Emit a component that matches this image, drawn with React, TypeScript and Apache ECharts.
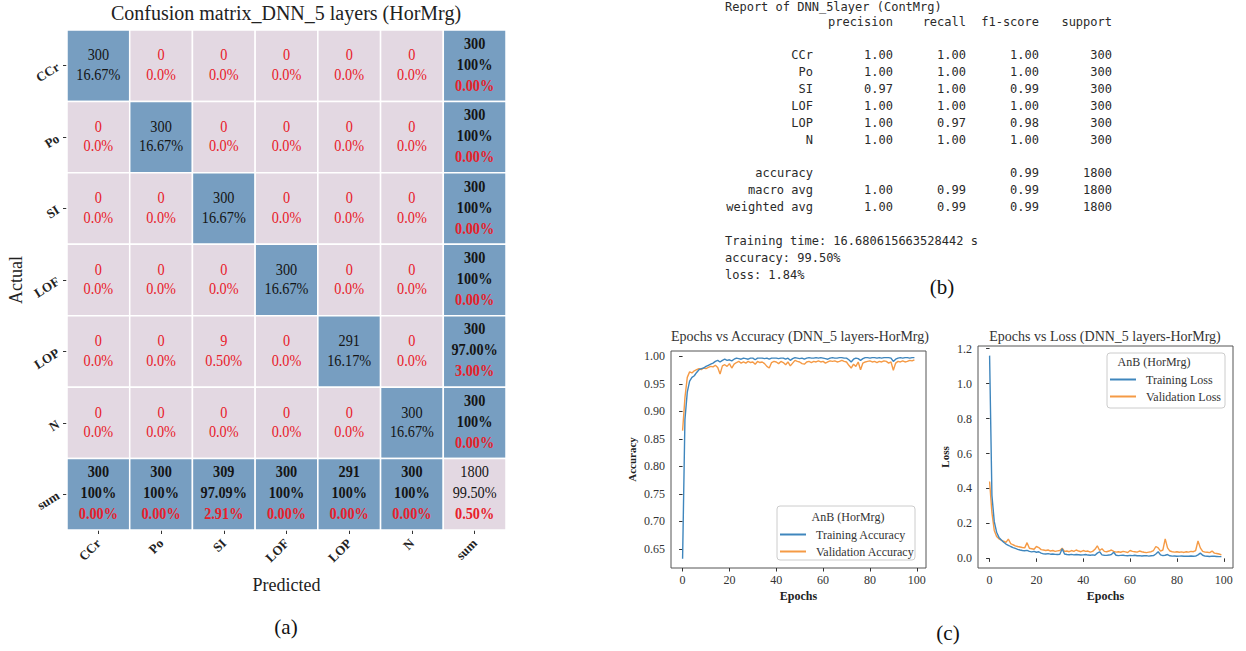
import React, { useEffect, useRef } from 'react';
import * as echarts from 'echarts';

const SERIF = '"Liberation Serif", "Times New Roman", serif';
const MONO = '"DejaVu Sans Mono", "Liberation Mono", monospace';

// ---------- (a) confusion matrix ----------
const classes = ['CCr', 'Po', 'SI', 'LOF', 'LOP', 'N'];
const axisCats = [...classes, 'sum'];
const confusion = [
  [300, 0, 0, 0, 0, 0],
  [0, 300, 0, 0, 0, 0],
  [0, 0, 300, 0, 0, 0],
  [0, 0, 0, 300, 0, 0],
  [0, 0, 9, 0, 291, 0],
  [0, 0, 0, 0, 0, 300],
];

// ---------- (b) classification report ----------
const reportTitle = 'Report of DNN_5layer (ContMrg)';
const reportHeaders = ['precision', 'recall', 'f1-score', 'support'];
const reportPrecision = [1.0, 1.0, 0.97, 1.0, 1.0, 1.0];
const reportRecall = [1.0, 1.0, 1.0, 1.0, 0.97, 1.0];
const reportF1 = [1.0, 1.0, 0.99, 1.0, 0.98, 1.0];
const reportSupport = [300, 300, 300, 300, 300, 300];
const avgLabels = ['accuracy', 'macro avg', 'weighted avg'];
const avgPrecision = [null, 1.0, 1.0];
const avgRecall = [null, 0.99, 0.99];
const avgF1 = [0.99, 0.99, 0.99];
const avgSupport = [1800, 1800, 1800];
const footerLines = ['Training time: 16.680615663528442 s', 'accuracy: 99.50%', 'loss: 1.84%'];

// ---------- (c) training curves ----------
const trainAcc = [
  0.632, 0.885, 0.935, 0.955, 0.962, 0.965, 0.971, 0.976, 0.978, 0.979,
  0.982, 0.984, 0.986, 0.988, 0.991, 0.993, 0.99, 0.993, 0.995, 0.993,
  0.994, 0.992, 0.995, 0.997, 0.996, 0.995, 0.997, 0.996, 0.995, 0.997,
  0.997, 0.994, 0.997, 0.997, 0.997, 0.996, 0.997, 0.995, 0.997, 0.997,
  0.997, 0.996, 0.997, 0.997, 0.995, 0.997, 0.993, 0.996, 0.998, 0.997,
  0.996, 0.997, 0.995, 0.997, 0.998, 0.997, 0.997, 0.998, 0.997, 0.998,
  0.997, 0.996, 0.995, 0.997, 0.998, 0.997, 0.997, 0.998, 0.998, 0.997,
  0.997, 0.994, 0.99, 0.995, 0.997, 0.996, 0.993, 0.996, 0.998, 0.998,
  0.997, 0.998, 0.998, 0.997, 0.998, 0.997, 0.998, 0.998, 0.998, 0.997,
  0.991, 0.995, 0.997, 0.998, 0.997, 0.998, 0.998, 0.997, 0.998, 0.998,
];
const valAcc = [
  0.865, 0.925, 0.962, 0.972, 0.97, 0.974, 0.976, 0.978, 0.976, 0.979,
  0.978, 0.98, 0.982, 0.981, 0.984, 0.98, 0.968, 0.983, 0.985, 0.982,
  0.987, 0.979, 0.986, 0.989, 0.991, 0.988, 0.99, 0.988, 0.991, 0.989,
  0.99, 0.986, 0.991, 0.989, 0.99, 0.987, 0.982, 0.979, 0.989, 0.991,
  0.99, 0.987, 0.991, 0.989, 0.985, 0.99, 0.983, 0.988, 0.993, 0.991,
  0.99, 0.987, 0.986, 0.99, 0.991, 0.989, 0.991, 0.99, 0.992, 0.99,
  0.991, 0.988, 0.99, 0.992, 0.991, 0.992, 0.99, 0.991, 0.993, 0.991,
  0.99, 0.984, 0.979, 0.986, 0.982, 0.99, 0.976, 0.988, 0.99, 0.991,
  0.992, 0.99, 0.991, 0.989, 0.991, 0.99, 0.992, 0.991, 0.988, 0.99,
  0.975, 0.988, 0.991, 0.99, 0.992, 0.99, 0.991, 0.993, 0.992, 0.994,
];
const trainLoss = [
  1.16, 0.36, 0.21, 0.15, 0.12, 0.105, 0.092, 0.082, 0.075, 0.068,
  0.062, 0.057, 0.052, 0.048, 0.045, 0.044, 0.046, 0.04, 0.037, 0.04,
  0.035, 0.038, 0.03, 0.026, 0.025, 0.027, 0.024, 0.025, 0.023, 0.022,
  0.024, 0.055, 0.025, 0.022, 0.021, 0.023, 0.02, 0.022, 0.021, 0.019,
  0.02, 0.022, 0.019, 0.018, 0.02, 0.018, 0.03, 0.038, 0.02, 0.018,
  0.017, 0.019, 0.022, 0.035, 0.018, 0.016, 0.017, 0.018, 0.016, 0.015,
  0.017, 0.016, 0.018, 0.015, 0.016, 0.014, 0.015, 0.016, 0.013, 0.015,
  0.016, 0.025, 0.038, 0.02, 0.016, 0.018, 0.022, 0.015, 0.013, 0.014,
  0.012, 0.013, 0.014, 0.012, 0.013, 0.012, 0.014, 0.012, 0.013, 0.02,
  0.03, 0.018, 0.013, 0.012, 0.011, 0.013, 0.012, 0.011, 0.01, 0.01,
];
const valLoss = [
  0.44, 0.26, 0.16, 0.125, 0.112, 0.105, 0.098, 0.092, 0.11, 0.085,
  0.078, 0.072, 0.068, 0.065, 0.062, 0.06, 0.09, 0.058, 0.055, 0.052,
  0.068, 0.062, 0.05, 0.048, 0.045, 0.048, 0.042, 0.045, 0.04, 0.043,
  0.045, 0.058, 0.04, 0.042, 0.038, 0.045, 0.04, 0.048, 0.042, 0.038,
  0.045, 0.04, 0.042, 0.036, 0.04, 0.052, 0.072, 0.045, 0.055, 0.04,
  0.038, 0.042, 0.048, 0.04, 0.036, 0.038, 0.035, 0.04, 0.037, 0.034,
  0.045, 0.04, 0.038, 0.036, 0.042, 0.038, 0.035, 0.033, 0.036, 0.038,
  0.045, 0.068, 0.06, 0.042, 0.048, 0.112, 0.06, 0.042, 0.038, 0.036,
  0.038, 0.035, 0.037, 0.034, 0.038, 0.036, 0.04, 0.038, 0.045, 0.1,
  0.06, 0.04, 0.036, 0.035, 0.033, 0.042, 0.03, 0.028, 0.025, 0.02,
];
const legendTitle = 'AnB (HorMrg)';

const BLUE_CELL = '#779ec1';
const LIGHT_CELL = '#e3d8e2';
const RED = '#e8202a';
const DARK = '#151515';
const TRAIN_COLOR = '#3f86bd';
const VAL_COLOR = '#f59a45';

type Line = { text: string; color: string; bold: boolean };
type Cell = { col: number; row: number; fill: string; lines: Line[] };

function buildCells(): Cell[] {
  const n = classes.length;
  const total = confusion.flat().reduce((a, b) => a + b, 0);
  const correct = confusion.reduce((a, r, i) => a + r[i], 0);
  const rowSums = confusion.map((r) => r.reduce((a, b) => a + b, 0));
  const colSums = classes.map((_, c) => confusion.reduce((a, r) => a + r[c], 0));
  const rate = (v: number) => (v === 1 ? '100%' : (v * 100).toFixed(2) + '%');
  const cells: Cell[] = [];
  for (let r = 0; r < n; r++) {
    for (let c = 0; c < n; c++) {
      const v = confusion[r][c];
      if (r === c) {
        cells.push({
          col: c, row: r, fill: BLUE_CELL,
          lines: [
            { text: String(v), color: DARK, bold: false },
            { text: ((v / total) * 100).toFixed(2) + '%', color: DARK, bold: false },
          ],
        });
      } else {
        cells.push({
          col: c, row: r, fill: LIGHT_CELL,
          lines: [
            { text: String(v), color: RED, bold: false },
            { text: v === 0 ? '0.0%' : ((v / total) * 100).toFixed(2) + '%', color: RED, bold: false },
          ],
        });
      }
    }
    const rr = confusion[r][r] / rowSums[r];
    cells.push({
      col: n, row: r, fill: BLUE_CELL,
      lines: [
        { text: String(rowSums[r]), color: DARK, bold: true },
        { text: rate(rr), color: DARK, bold: true },
        { text: ((1 - rr) * 100).toFixed(2) + '%', color: RED, bold: true },
      ],
    });
  }
  for (let c = 0; c < n; c++) {
    const cr = confusion[c][c] / colSums[c];
    cells.push({
      col: c, row: n, fill: BLUE_CELL,
      lines: [
        { text: String(colSums[c]), color: DARK, bold: true },
        { text: rate(cr), color: DARK, bold: true },
        { text: ((1 - cr) * 100).toFixed(2) + '%', color: RED, bold: true },
      ],
    });
  }
  const acc = correct / total;
  cells.push({
    col: n, row: n, fill: LIGHT_CELL,
    lines: [
      { text: String(total), color: DARK, bold: false },
      { text: rate(acc), color: DARK, bold: false },
      { text: ((1 - acc) * 100).toFixed(2) + '%', color: RED, bold: true },
    ],
  });
  return cells;
}

function reportGraphics(): any[] {
  const els: any[] = [];
  const font = { fontFamily: MONO, fontSize: 12, fill: '#2a2a2a' };
  const colRight = [813, 893, 966, 1039, 1112];
  const fmt = (v: number | null) => (v === null ? '' : v.toFixed(2));
  const txt = (text: string, x: number, y: number, align: string) => ({
    type: 'text', x, y, z: 10,
    style: { ...font, text, align, verticalAlign: 'middle' },
  });
  els.push(txt(reportTitle, 725, 7, 'left'));
  reportHeaders.forEach((h, i) => els.push(txt(h, colRight[i + 1], 22, 'right')));
  classes.forEach((cl, i) => {
    const y = 55 + i * 17;
    els.push(txt(cl, colRight[0], y, 'right'));
    els.push(txt(fmt(reportPrecision[i]), colRight[1], y, 'right'));
    els.push(txt(fmt(reportRecall[i]), colRight[2], y, 'right'));
    els.push(txt(fmt(reportF1[i]), colRight[3], y, 'right'));
    els.push(txt(String(reportSupport[i]), colRight[4], y, 'right'));
  });
  avgLabels.forEach((lab, i) => {
    const y = 173 + i * 17;
    els.push(txt(lab, colRight[0], y, 'right'));
    if (avgPrecision[i] !== null) els.push(txt(fmt(avgPrecision[i]), colRight[1], y, 'right'));
    if (avgRecall[i] !== null) els.push(txt(fmt(avgRecall[i]), colRight[2], y, 'right'));
    els.push(txt(fmt(avgF1[i]), colRight[3], y, 'right'));
    els.push(txt(String(avgSupport[i]), colRight[4], y, 'right'));
  });
  footerLines.forEach((l, i) => els.push(txt(l, 725, 241 + i * 17, 'left')));
  return els;
}

export default function App() {
  const ref = useRef<HTMLDivElement>(null);
  useEffect(() => {
    if (!ref.current) return;
    const chart = echarts.init(ref.current, undefined, { renderer: 'svg' });
    const cells = buildCells();
    const epochs = trainAcc.map((_, i) => i);

    const valueX = (gridIndex: number) => ({
      gridIndex,
      type: 'value',
      min: -4.95,
      max: 103.95,
      splitNumber: 5,
      axisLine: { show: false },
      axisTick: { show: true, length: 3.5, lineStyle: { color: '#333' } },
      splitLine: { show: false },
      axisLabel: {
        showMinLabel: false, showMaxLabel: false, margin: 6,
        fontFamily: SERIF, fontSize: 12, color: '#333',
      },
      name: 'Epochs', nameLocation: 'middle', nameGap: 22,
      nameTextStyle: { fontFamily: SERIF, fontSize: 12, fontWeight: 'bold', color: '#222' },
    });

    const option: any = {
      animation: false,
      backgroundColor: '#ffffff',
      title: [
        {
          text: 'Confusion matrix_DNN_5 layers (HorMrg)', left: 286, top: 3, padding: 0,
          textAlign: 'center',
          textStyle: { fontFamily: SERIF, fontSize: 20, fontWeight: 'normal', color: '#222' },
        },
        {
          text: 'Epochs vs Accuracy (DNN_5 layers-HorMrg)', left: 800, top: 329, padding: 0,
          textAlign: 'center',
          textStyle: { fontFamily: SERIF, fontSize: 14, fontWeight: 'normal', color: '#333' },
        },
        {
          text: 'Epochs vs Loss (DNN_5 layers-HorMrg)', left: 1105, top: 329, padding: 0,
          textAlign: 'center',
          textStyle: { fontFamily: SERIF, fontSize: 14, fontWeight: 'normal', color: '#333' },
        },
      ],
      grid: [
        { left: 67, top: 30, width: 439, height: 500 },
        { left: 671, top: 351, width: 255, height: 217, show: true, borderColor: '#555', borderWidth: 1, backgroundColor: 'transparent' },
        { left: 978, top: 346, width: 255, height: 222, show: true, borderColor: '#555', borderWidth: 1, backgroundColor: 'transparent' },
      ],
      xAxis: [
        {
          gridIndex: 0, type: 'category', data: axisCats, position: 'bottom',
          axisLine: { show: false },
          axisTick: { show: true, alignWithLabel: true, length: 4, lineStyle: { color: '#333' } },
          axisLabel: { interval: 0, rotate: 45, margin: 11, fontFamily: SERIF, fontWeight: 'bold', fontSize: 13, color: '#222' },
          name: 'Predicted', nameLocation: 'middle', nameGap: 46,
          nameTextStyle: { fontFamily: SERIF, fontSize: 18, color: '#222' },
        },
        valueX(1),
        valueX(2),
      ],
      yAxis: [
        {
          gridIndex: 0, type: 'category', data: axisCats, inverse: true,
          axisLine: { show: false },
          axisTick: { show: true, alignWithLabel: true, length: 4, lineStyle: { color: '#333' } },
          axisLabel: { interval: 0, rotate: 32, margin: 9, fontFamily: SERIF, fontWeight: 'bold', fontSize: 13, color: '#222' },
          name: 'Actual', nameLocation: 'middle', nameGap: 42,
          nameTextStyle: { fontFamily: SERIF, fontSize: 18, color: '#222' },
        },
        {
          gridIndex: 1, type: 'value', min: 0.615, max: 1.01, splitNumber: 8,
          axisLine: { show: false },
          axisTick: { show: true, length: 3.5, lineStyle: { color: '#333' } },
          splitLine: { show: false },
          axisLabel: {
            showMinLabel: false, showMaxLabel: false, margin: 6,
            fontFamily: SERIF, fontSize: 12, color: '#333',
            formatter: (v: number) => v.toFixed(2),
          },
          name: 'Accuracy', nameLocation: 'middle', nameGap: 34,
          nameTextStyle: { fontFamily: SERIF, fontSize: 11, fontWeight: 'bold', color: '#222' },
        },
        {
          gridIndex: 2, type: 'value', min: -0.055, max: 1.215, splitNumber: 6,
          axisLine: { show: false },
          axisTick: { show: true, length: 3.5, lineStyle: { color: '#333' } },
          splitLine: { show: false },
          axisLabel: {
            showMinLabel: false, showMaxLabel: false, margin: 6,
            fontFamily: SERIF, fontSize: 12, color: '#333',
            formatter: (v: number) => (Math.abs(v) < 1e-9 ? 0 : v).toFixed(1),
          },
          name: 'Loss', nameLocation: 'middle', nameGap: 28,
          nameTextStyle: { fontFamily: SERIF, fontSize: 11, fontWeight: 'bold', color: '#222' },
        },
      ],
      legend: [
        {
          data: ['Training Accuracy', 'Validation Accuracy'], orient: 'vertical',
          left: 780, top: 528, padding: 0, itemWidth: 26, itemHeight: 2, itemGap: 4,
          icon: 'rect', selectedMode: false, z: 6,
          textStyle: { fontFamily: SERIF, fontSize: 12, color: '#333', lineHeight: 13, padding: [0, 0, 0, 5] },
        },
        {
          data: ['Training Loss', 'Validation Loss'], orient: 'vertical',
          left: 1110, top: 373, padding: 0, itemWidth: 26, itemHeight: 2, itemGap: 4,
          icon: 'rect', selectedMode: false, z: 6,
          textStyle: { fontFamily: SERIF, fontSize: 12, color: '#333', lineHeight: 13, padding: [0, 0, 0, 5] },
        },
      ],
      series: [
        {
          type: 'custom', xAxisIndex: 0, yAxisIndex: 0, silent: true,
          data: cells.map((c) => [c.col, c.row]),
          renderItem: (params: any, api: any) => {
            const cell = cells[params.dataIndex];
            const center = api.coord([api.value(0), api.value(1)]);
            const size = api.size([1, 1]);
            const w = size[0];
            const h = size[1];
            const children: any[] = [
              {
                type: 'rect',
                shape: { x: center[0] - w / 2, y: center[1] - h / 2, width: w, height: h },
                style: { fill: cell.fill, stroke: '#ffffff', lineWidth: 1.5 },
              },
            ];
            const n = cell.lines.length;
            const lh = n === 3 ? 21 : 19.5;
            const off = n === 3 ? -2 : -1.5;
            cell.lines.forEach((ln, i) => {
              children.push({
                type: 'text',
                x: center[0],
                y: center[1] + off + (i - (n - 1) / 2) * lh,
                scaleX: 0.84,
                style: {
                  text: ln.text, fill: ln.color, fontFamily: SERIF, fontSize: 17,
                  fontWeight: ln.bold ? 'bold' : 'normal', align: 'center', verticalAlign: 'middle',
                },
              });
            });
            return { type: 'group', children };
          },
        },
        {
          name: 'Training Accuracy', type: 'line', xAxisIndex: 1, yAxisIndex: 1,
          data: epochs.map((e, i) => [e, trainAcc[i]]), symbol: 'none',
          color: TRAIN_COLOR, lineStyle: { width: 1.4, color: TRAIN_COLOR }, z: 3,
        },
        {
          name: 'Validation Accuracy', type: 'line', xAxisIndex: 1, yAxisIndex: 1,
          data: epochs.map((e, i) => [e, valAcc[i]]), symbol: 'none',
          color: VAL_COLOR, lineStyle: { width: 1.4, color: VAL_COLOR }, z: 2,
        },
        {
          name: 'Training Loss', type: 'line', xAxisIndex: 2, yAxisIndex: 2,
          data: epochs.map((e, i) => [e, trainLoss[i]]), symbol: 'none',
          color: TRAIN_COLOR, lineStyle: { width: 1.4, color: TRAIN_COLOR }, z: 3,
        },
        {
          name: 'Validation Loss', type: 'line', xAxisIndex: 2, yAxisIndex: 2,
          data: epochs.map((e, i) => [e, valLoss[i]]), symbol: 'none',
          color: VAL_COLOR, lineStyle: { width: 1.4, color: VAL_COLOR }, z: 2,
        },
      ],
      graphic: [
        {
          type: 'rect', z: 5, shape: { x: 777, y: 506, width: 138, height: 54, r: 3 },
          style: { fill: 'rgba(255,255,255,0.85)', stroke: '#cccccc', lineWidth: 1 },
        },
        {
          type: 'text', z: 6, x: 848, y: 517,
          style: { text: legendTitle, fontFamily: SERIF, fontSize: 12, fill: '#333', align: 'center', verticalAlign: 'middle' },
        },
        {
          type: 'rect', z: 5, shape: { x: 1107, y: 353, width: 118, height: 55, r: 3 },
          style: { fill: 'rgba(255,255,255,0.85)', stroke: '#cccccc', lineWidth: 1 },
        },
        {
          type: 'text', z: 6, x: 1154, y: 362,
          style: { text: legendTitle, fontFamily: SERIF, fontSize: 12, fill: '#333', align: 'center', verticalAlign: 'middle' },
        },
        {
          type: 'text', z: 6, x: 286, y: 627,
          style: { text: '(a)', fontFamily: SERIF, fontSize: 21, fill: '#111', align: 'center', verticalAlign: 'middle' },
        },
        {
          type: 'text', z: 6, x: 942, y: 287,
          style: { text: '(b)', fontFamily: SERIF, fontSize: 21, fill: '#111', align: 'center', verticalAlign: 'middle' },
        },
        {
          type: 'text', z: 6, x: 948, y: 633,
          style: { text: '(c)', fontFamily: SERIF, fontSize: 21, fill: '#111', align: 'center', verticalAlign: 'middle' },
        },
        ...reportGraphics(),
      ],
    };
    chart.setOption(option);
    return () => chart.dispose();
  }, []);
  return (
    <div
      ref={ref}
      style={{ position: 'fixed', left: 0, top: 0, width: 1246, height: 651, background: '#fff' }}
    />
  );
}
